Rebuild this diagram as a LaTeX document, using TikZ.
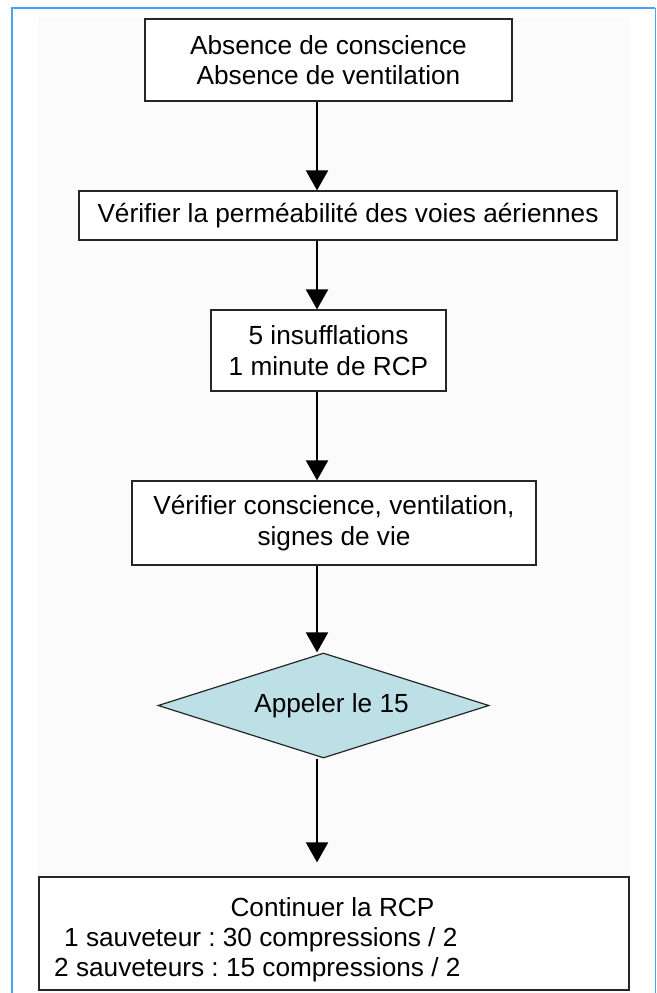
\documentclass[tikz,border=0pt]{standalone}
\usepackage{fontspec}
\usetikzlibrary{shapes.geometric,arrows.meta}
\newfontfamily\flowfont{Liberation Sans}
\definecolor{framebl}{RGB}{75,160,250}
\definecolor{callfill}{RGB}{188,224,230}
\definecolor{pagegray}{RGB}{251,251,251}
\tikzset{
  txt/.style={font=\flowfont\fontsize{26.2}{30.5}\selectfont\frenchspacing},
  box/.style={txt, draw=black!85, line width=1.2pt, fill=white, inner sep=0pt, align=center},
  decision/.style={txt, diamond, shape aspect=3.15, draw=black!85, line width=1.2pt, fill=callfill, inner sep=0pt},
  flow/.style={line width=2pt, -{Triangle[width=22pt,length=20pt]}},
}
\begin{document}
\begin{tikzpicture}[x=1pt,y=-1pt]
\useasboundingbox (0,0) rectangle (656,993);
% page background and blue frame
\fill[pagegray] (38,17) rectangle (630,993);
\draw[framebl, line width=2.2pt] (12,993) -- (12,8) -- (655,8);
\draw[framebl, line width=1pt] (655,8) -- (655,993);
% vertical axis of the arrows
\coordinate (spine) at (317,0);
% steps
\node[box, minimum width=367pt, minimum height=82pt] (b1) at (328.5,60)
  {Absence de conscience\\Absence de ventilation};
\node[box, minimum width=538pt, minimum height=49pt] (b2) at (348,215.5)
  {V\'erifier la perm\'eabilit\'e des voies a\'eriennes};
\node[box, minimum width=235pt, minimum height=81pt] (b3) at (328.5,350.5)
  {5 insufflations\\1 minute de RCP};
\node[box, minimum width=404pt, minimum height=84pt] (b4) at (334,523)
  {V\'erifier conscience, ventilation,\\signes de vie};
\node[decision, minimum width=331pt, minimum height=105pt] (d5) at (323.5,705.5)
  {\hspace*{16pt}Appeler le 15};
\node[box, minimum width=590pt, minimum height=113pt] (b6) at (334,933.5) {};
\node[txt, inner sep=0pt, anchor=base] (t6a) at (332.5,916) {Continuer la RCP};
\node[txt, inner sep=0pt, anchor=base west] (t6b) at (64,946) {1 sauveteur : 30 compressions / 2};
\node[txt, inner sep=0pt, anchor=base west] (t6c) at (54,976) {2 sauveteurs : 15 compressions / 2};
% connectors
\draw[flow] (b1.south -| spine) -- (b2.north -| spine);
\draw[flow] (b2.south -| spine) -- (b3.north -| spine);
\draw[flow] (b3.south -| spine) -- (b4.north -| spine);
\draw[flow] (b4.south -| spine) -- (d5.north -| spine);
\draw[flow, shorten >=14pt] (d5.south -| spine) -- (b6.north -| spine);
\end{tikzpicture}
\end{document}
